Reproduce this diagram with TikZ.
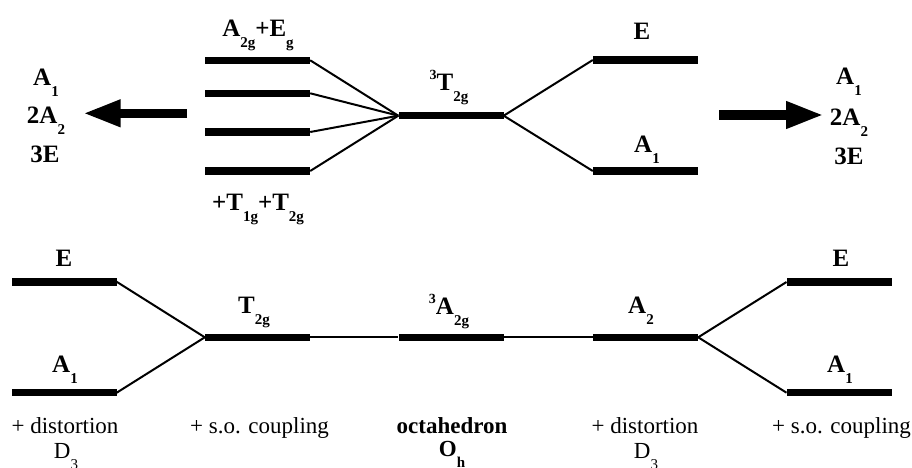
\documentclass[tikz,border=0pt]{standalone}
\usepackage{fontspec}
\setmainfont{Liberation Serif}
\usetikzlibrary{arrows.meta}
\newcommand{\lsb}[1]{\raisebox{-11pt}{\fontsize{15}{15}\selectfont #1}}
\newcommand{\lsp}[1]{\raisebox{11pt}{\fontsize{14}{14}\selectfont #1}}
\tikzset{
  lvl/.style={fill=black, draw=none, inner sep=0pt, minimum width=105pt, minimum height=7.5pt},
  conn/.style={line width=2pt},
  lab/.style={font=\fontsize{25}{29}\selectfont\bfseries, inner sep=0pt, anchor=base},
  blab/.style={font=\fontsize{23}{27}\selectfont\bfseries, inner sep=0pt, anchor=base},
  txt/.style={font=\fontsize{23}{27}\selectfont, inner sep=0pt, anchor=base},
  bigarrow/.style={line width=9.5pt, -{Triangle[length=38pt,width=25pt]}}
}
\begin{document}
\begin{tikzpicture}[x=1pt,y=-1pt]
\useasboundingbox (0,0) rectangle (912,468);
% top levels
\node[lvl] (l1) at (257.5,60.3) {};
\node[lvl] (l2) at (257.5,93.3) {};
\node[lvl] (l3) at (257.5,132) {};
\node[lvl] (l4) at (257.5,171) {};
\node[lvl] (t2g) at (451,115.7) {};
\node[lvl] (te) at (645.5,60) {};
\node[lvl] (ta1) at (645.5,171) {};
% bottom levels
\node[lvl] (be) at (64,281.8) {};
\node[lvl] (ba1) at (64,392.7) {};
\node[lvl] (bt2g) at (257.5,337.3) {};
\node[lvl] (ba2g) at (451,337.3) {};
\node[lvl] (ba2) at (645.5,337.3) {};
\node[lvl] (re) at (839.2,282) {};
\node[lvl] (ra1) at (839.2,392.7) {};
% connectors
\foreach \n in {l1,l2,l3,l4} \draw[conn] (\n.east) -- (t2g.west);
\draw[conn] (t2g.east) -- (te.west);
\draw[conn] (t2g.east) -- (ta1.west);
\draw[conn] (be.east) -- (bt2g.west);
\draw[conn] (ba1.east) -- (bt2g.west);
\draw[conn] (bt2g.east) -- (ba2g.west);
\draw[conn] (ba2g.east) -- (ba2.west);
\draw[conn] (ba2.east) -- (re.west);
\draw[conn] (ba2.east) -- (ra1.west);
% big arrows
\coordinate (la0) at (187,113.3);
\coordinate (la1) at (82.7,113.3);
\coordinate (ra0) at (719,115);
\coordinate (rb1) at (824,115);
\draw[bigarrow] (la0) -- (la1);
\draw[bigarrow] (ra0) -- (rb1);
% top labels
\node[lab] (lA) at (258,37) {A\lsb{2g}+E\lsb{g}};
\node[lab] (lT) at (258,210) {+T\lsb{1g}+T\lsb{2g}};
\node[lab] (lc) at (449,91) {\lsp{3}T\lsb{2g}};
\node[lab] (lE) at (642,40) {E};
\node[lab] (lA1) at (647,152) {A\lsb{1}};
\node[lab] (g1) at (46,86) {A\lsb{1}};
\node[lab] (g2) at (46,124) {2A\lsb{2}};
\node[lab] (g3) at (45,162) {3E};
\node[lab] (h1) at (849,85) {A\lsb{1}};
\node[lab] (h2) at (849,125) {2A\lsb{2}};
\node[lab] (h3) at (849,164) {3E};
% bottom labels
\node[lab] (bE) at (64,266) {E};
\node[lab] (bA1) at (65,372) {A\lsb{1}};
\node[lab] (bT) at (254,313) {T\lsb{2g}};
\node[lab] (bA2g) at (449,314) {\lsp{3}A\lsb{2g}};
\node[lab] (bA2) at (641,313) {A\lsb{2}};
\node[lab] (rE) at (841,266) {E};
\node[lab] (rA1) at (840,372) {A\lsb{1}};
% bottom texts
\node[txt] (x1) at (65,433) {+ distortion};
\node[txt] (x1b) at (66,458) {D\lsb{3}};
\node[txt] (x2) at (259.5,433) {+ s.o. coupling};
\node[blab] (x3) at (452,433) {octahedron};
\node[blab] (x3b) at (452,456) {O\lsb{h}};
\node[txt] (x4) at (645,433) {+ distortion};
\node[txt] (x4b) at (646,458) {D\lsb{3}};
\node[txt] (x5) at (841.5,433) {+ s.o. coupling};
\end{tikzpicture}
\end{document}
